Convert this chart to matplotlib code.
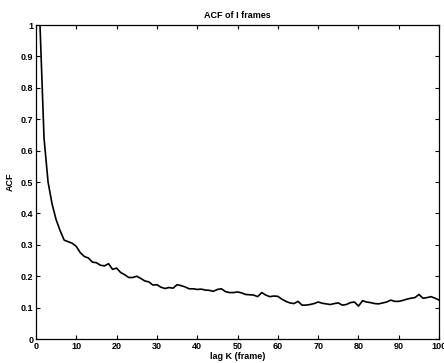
import matplotlib
matplotlib.use("Agg")
import matplotlib.pyplot as plt
import numpy as np

# autocorrelation of the I-frame size sequence, lags 1..100
lags = np.arange(1, 101)
acf = [
    1.0, 0.64, 0.50, 0.43, 0.38, 0.345, 0.315, 0.31, 0.305, 0.295,
    0.275, 0.263, 0.258, 0.245, 0.243, 0.235, 0.233, 0.24, 0.222, 0.226,
    0.212, 0.205, 0.196, 0.196, 0.20, 0.193, 0.185, 0.182, 0.172, 0.173,
    0.165, 0.161, 0.164, 0.162, 0.173, 0.17, 0.166, 0.16, 0.16, 0.158,
    0.159, 0.156, 0.155, 0.152, 0.158, 0.16, 0.151, 0.148, 0.148, 0.15,
    0.147, 0.142, 0.141, 0.14, 0.135, 0.148, 0.14, 0.135, 0.137, 0.136,
    0.127, 0.12, 0.115, 0.113, 0.12, 0.108, 0.108, 0.11, 0.113, 0.118,
    0.114, 0.112, 0.11, 0.113, 0.115, 0.108, 0.11, 0.116, 0.118, 0.105,
    0.122, 0.118, 0.116, 0.113, 0.112, 0.115, 0.118, 0.124, 0.12, 0.12,
    0.123, 0.127, 0.13, 0.132, 0.142, 0.13, 0.132, 0.135, 0.13, 0.124,
]
xticks = np.arange(0, 101, 10)
yticks = np.round(np.arange(0, 1.01, 0.1), 1)
ytick_labels = ['0'] + ['%.1f' % v for v in yticks[1:-1]] + ['1']

plt.rcParams['font.family'] = ['Liberation Sans', 'DejaVu Sans']
plt.rcParams['font.weight'] = 'bold'

fig = plt.figure(figsize=(4.44, 3.63), dpi=100)
ax = fig.add_axes([0.081, 0.066, 0.908, 0.865])

ax.plot(lags, acf, color='black', linewidth=1.2)

ax.set_xlim(0, 100)
ax.set_ylim(0, 1)
ax.set_xticks(xticks)
ax.set_xticklabels([str(t) for t in xticks], fontsize=6.5, fontweight='bold')
ax.set_yticks(yticks)
ax.set_yticklabels(ytick_labels, fontsize=6.5, fontweight='bold')
ax.tick_params(direction='in', top=True, right=True, length=3, width=0.8, pad=2)
for s in ax.spines.values():
    s.set_linewidth(0.9)

ax.set_title('ACF of I frames', fontsize=6.5, fontweight='bold', pad=5)
ax.set_xlabel('lag K (frame)', fontsize=6.5, fontweight='bold', labelpad=1)
ax.set_ylabel('ACF', fontsize=6.5, fontweight='bold', labelpad=4)

fig.savefig('out.png', dpi=100)
